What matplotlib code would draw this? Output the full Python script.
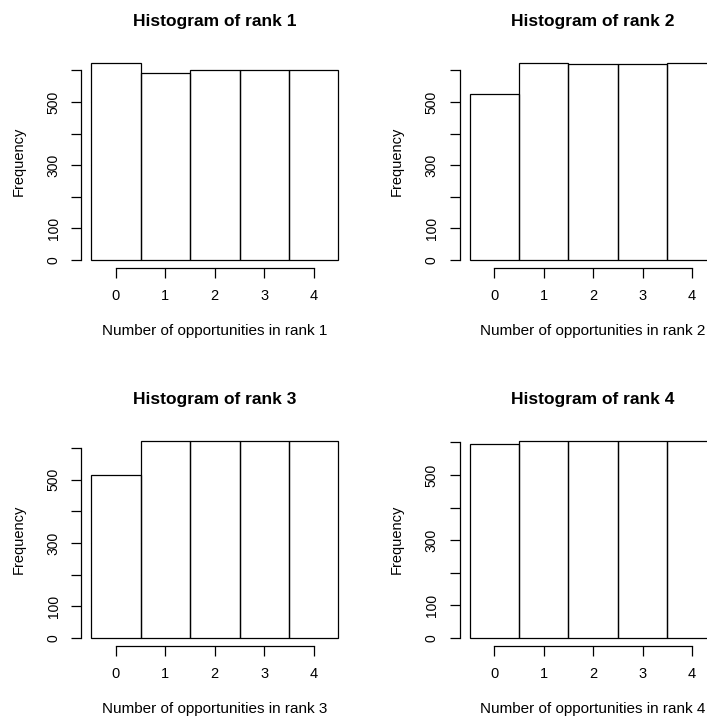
import numpy as np
import matplotlib
matplotlib.use("Agg")
import matplotlib.pyplot as plt

plt.rcParams['font.family'] = ['Liberation Sans', 'DejaVu Sans']

categories = [0, 1, 2, 3, 4]
rank1 = [624, 590, 600, 600, 600]
rank2 = [525, 624, 619, 619, 624]
rank3 = [514, 623, 623, 623, 623]
rank4 = [596, 605, 605, 605, 605]
yticks = [0, 100, 200, 300, 400, 500, 600]
ylabels = ['0', '100', '', '300', '', '500', '']

W, H = 707, 720
fig = plt.figure(figsize=(W / 100, H / 100), dpi=100)

# plot regions in pixels: left, top
lefts = [81.4, 459.7]
tops = [54.8, 432.8]
pw, ph = 266.8, 213.2

panels = [(rank1, 1, 0, 0), (rank2, 2, 1, 0), (rank3, 3, 0, 1), (rank4, 4, 1, 1)]

for counts, n, c, r in panels:
    l, t = lefts[c], tops[r]
    ax = fig.add_axes([l / W, 1 - (t + ph) / H, pw / W, ph / H])
    ax.bar(categories, counts, width=1.0, fill=False, edgecolor='black', linewidth=0.9)
    ymax = max(counts)
    ax.set_xlim(-0.7, 4.7)
    ax.set_ylim(-0.04 * ymax, 1.04 * ymax)
    for s in ['top', 'right']:
        ax.spines[s].set_visible(False)
    ax.spines['left'].set_bounds(0, 600)
    ax.spines['bottom'].set_bounds(0, 4)
    ax.spines['left'].set_linewidth(0.9)
    ax.spines['bottom'].set_linewidth(0.9)
    ax.set_xticks(categories)
    ax.set_yticks(yticks)
    ax.set_yticklabels(ylabels, rotation=90, va='center')
    ax.tick_params(length=7, width=0.9, pad=8)
    ax.tick_params(axis='x', labelsize=10.5)
    ax.tick_params(axis='y', labelsize=10)
    ax.set_title('Histogram of rank %d' % n, fontsize=12.5, fontweight='bold', pad=21)
    ax.set_xlabel('Number of opportunities in rank %d' % n, fontsize=11, labelpad=15)
    ax.set_ylabel('Frequency', fontsize=10.5, labelpad=15)

fig.savefig('out.png', dpi=100)
